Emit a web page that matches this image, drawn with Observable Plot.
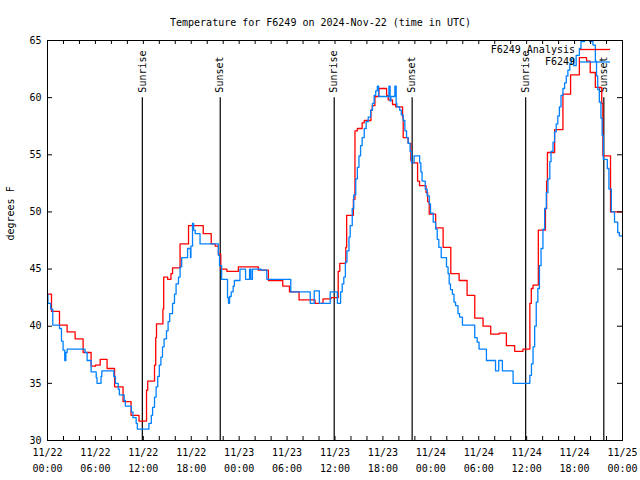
<!DOCTYPE html>
<html><head><meta charset="utf-8">
<script src="https://cdn.jsdelivr.net/npm/d3@7"></script>
<script src="https://cdn.jsdelivr.net/npm/@observablehq/plot@0.6"></script>
<style>body{margin:0;background:#fff}</style>
</head><body><div id="chart"></div>
<script>
const startTime = "2024-11-22T00:00:00Z";
const titleText = "Temperature for F6249 on 2024-Nov-22 (time in UTC)";
const yLabel = "degrees F";
const seriesNames = ["F6249 Analysis", "F6249"];
const seriesColors = ["#ff0000", "#0080ff"];

// F6249 Analysis (hours since start, degrees F)
const analysisHours = [0,0.5,1.5,2.46,3.46,4.46,5.46,6.0,6.6,7.46,8.4,9.46,10.46,11.46,12.4,12.55,13.4,13.55,13.65,14.45,14.55,15.04,15.46,15.66,16.6,17.66,19.5,20.5,21.0,21.4,21.7,22.46,23.9,26.4,27.66,29.46,30.3,31.5,33.5,34.5,35.5,36.4,36.6,37.35,37.46,38.3,38.5,38.8,39.4,39.66,40.5,40.66,41.0,41.5,42.46,42.66,43.2,43.6,44.46,44.54,45.16,45.5,45.58,46.34,46.58,47.4,47.6,47.8,48.6,49.54,50.5,51.54,52.54,53.5,54.54,55.5,56.54,57.46,58.5,59.54,60.4,60.58,60.8,61.46,62.35,62.5,62.6,63.5,64.54,65.5,66.6,67.5,67.96,68.6,69.4,69.54,70.5,72];
const analysisTemps = [42.8,41.3,40.1,39.5,38.9,37.7,36.5,36.6,37.1,36.3,34.7,33.4,32.2,31.7,34.4,35.2,36.6,39.0,40.2,41.5,44.3,44.1,44.6,45.1,47.2,48.8,48.1,47.2,47.0,46.3,45.0,44.8,45.2,44.9,44.0,43.5,43.0,42.3,42.0,42.4,42.5,44.8,45.5,46.9,49.7,51.1,57.1,57.3,57.8,58.0,58.9,59.3,60.1,60.8,60.2,59.8,59.4,59.2,58.3,56.5,56.0,54.5,54.3,52.7,52.3,51.7,50.9,49.8,48.6,46.9,44.6,44.0,42.7,40.7,40.0,39.3,39.4,38.3,37.8,38.0,42.0,43.3,43.6,48.4,50.3,52.7,55.2,57.2,60.3,62.0,63.5,63.2,62.2,60.9,59.5,54.9,50.0,50.0];

// F6249 observations (hours since start, degrees F)
const obsHours = [0,0.05,0.4,0.66,1.5,1.75,1.95,2.16,2.3,2.46,4.7,4.96,5.46,6.1,6.2,6.7,6.8,8.3,8.5,8.85,9.0,9.6,9.75,10.5,10.7,11.1,11.25,12.7,13.0,13.16,13.4,13.6,13.8,14.0,14.2,14.4,14.6,14.9,15.1,15.3,15.66,15.9,16.1,16.4,16.6,16.8,17.54,17.9,17.96,18.16,18.3,18.5,19.1,21.4,21.54,21.8,22.54,22.66,22.8,23.0,23.25,23.4,24.1,24.8,25.3,25.46,25.66,26.75,27.46,30.46,32.9,33.4,34.04,35.4,36.3,36.7,36.9,37.1,37.3,37.5,37.75,37.9,38.16,38.35,38.6,38.8,39.0,39.2,39.4,39.66,39.9,40.16,40.46,40.7,40.9,41.1,41.3,41.46,42.75,42.9,43.0,43.5,43.66,43.75,44.1,44.3,44.54,44.75,44.96,45.16,45.4,45.58,45.9,46.6,46.75,46.9,47.3,47.54,47.8,47.96,48.3,48.6,48.8,49.0,49.3,49.96,50.16,50.3,50.46,50.7,50.9,51.1,51.4,51.6,51.96,53.5,53.8,54.04,54.96,56.1,56.5,56.96,58.3,60.4,60.6,60.8,61.0,61.2,61.4,61.6,61.8,62.04,62.25,62.46,62.66,62.9,63.05,63.3,63.5,63.7,63.9,64.1,64.3,64.54,64.75,64.96,65.16,65.4,65.6,65.9,66.2,66.6,66.8,67.25,67.9,68.3,68.6,68.75,68.9,69.1,69.3,69.45,69.6,70.1,70.3,70.6,71.0,71.4,71.6,72];
const obsTemps = [42.8,42.0,41.5,40.1,39.8,38.7,37.9,37.0,37.7,38.0,37.7,37.0,36.0,35.5,35.0,35.6,36.1,35.6,35.0,34.5,34.0,33.5,33.0,32.5,32.0,31.5,31.0,31.5,32.2,32.9,33.8,34.7,35.6,36.6,37.3,38.2,38.9,39.6,40.4,41.1,42.0,42.8,43.7,44.3,45.2,46.0,46.8,46.0,47.0,49.0,48.4,48.1,47.2,46.2,45.3,44.1,42.5,42.0,42.6,43.0,43.5,44.0,45.0,44.1,45.0,44.1,45.0,44.9,44.1,43.0,42.0,43.1,42.0,43.0,42.0,43.0,43.7,44.3,45.6,46.6,47.8,48.8,50.3,51.5,52.9,53.9,54.9,55.8,56.5,57.3,57.9,58.3,58.9,59.5,60.2,60.6,61.0,60.1,61.0,59.7,60.1,61.0,59.5,59.2,58.9,58.5,58.0,57.1,56.5,56.0,55.3,54.3,54.9,54.3,53.5,52.7,52.0,51.4,50.7,49.9,49.1,48.5,47.6,46.9,46.0,45.2,44.6,43.7,43.2,42.8,42.1,41.8,41.1,40.8,40.1,39.0,38.6,38.0,37.0,36.1,37.0,36.1,35.0,35.7,36.7,38.2,40.0,42.1,43.3,45.3,46.8,48.5,50.3,51.7,52.9,54.4,55.3,56.1,57.0,57.7,58.4,59.2,60.2,60.8,61.3,61.9,62.4,63.0,63.4,62.8,63.7,64.3,64.9,65.2,64.9,64.6,63.2,61.9,60.7,59.6,58.2,56.7,54.6,53.8,52.0,50.0,49.1,48.2,47.9,47.9];

// Sunrise / sunset markers
const sunHours = [11.875, 21.63, 35.9, 45.66, 59.875, 69.66];
const sunLabels = ["Sunrise", "Sunset", "Sunrise", "Sunset", "Sunrise", "Sunset"];
const sunTop = 60;

// Axis ticks
const yTicks = [30, 35, 40, 45, 50, 55, 60, 65];
const xLabelHours = [0, 6, 12, 18, 24, 30, 36, 42, 48, 54, 60, 66, 72];
const xMinorHours = [2, 4, 6, 8, 10, 12, 14, 16, 18, 20, 22, 24, 26, 28, 30, 32, 34, 36, 38, 40, 42, 44, 46, 48, 50, 52, 54, 56, 58, 60, 62, 64, 66, 68, 70];

const t0 = new Date(startTime);
const toDate = h => new Date(t0.getTime() + h * 3600e3);
const analysis = analysisHours.map((h, i) => ({t: toDate(h), v: analysisTemps[i]}));
const obs = obsHours.map((h, i) => ({t: toDate(h), v: obsTemps[i]}));
const sun = sunHours.map((h, i) => ({t: toDate(h), s: sunLabels[i], top: sunTop}));

const W = 640, H = 480, mL = 47, mR = 18, mT = 40, mB = 40;
const pw = W - mL - mR, ph = H - mT - mB;
const fmt = d3.utcFormat("%m/%d\n%H:%M");

const chart = Plot.plot({
  width: W, height: H,
  marginLeft: mL, marginRight: mR, marginTop: mT, marginBottom: mB,
  style: {fontFamily: "'DejaVu Sans Mono', monospace", fontSize: "10px", background: "white", color: "black"},
  x: {type: "utc", domain: [toDate(0), toDate(72)]},
  y: {domain: [30, 65]},
  marks: [
    Plot.ruleX(sun, {x: "t", y1: () => 30, y2: "top", stroke: "black", strokeWidth: 1.2}),
    Plot.text(sun, {x: "t", y: "top", text: "s", rotate: -90, textAnchor: "start", dy: -5, fill: "black"}),
    Plot.line(analysis, {x: "t", y: "v", curve: "step-after", stroke: seriesColors[0], strokeWidth: 1.3, clip: true}),
    Plot.line(obs, {x: "t", y: "v", curve: "step-after", stroke: seriesColors[1], strokeWidth: 1.3, clip: true}),
    Plot.frame({stroke: "black"}),
    Plot.tickY(yTicks, {y: d => d, insetRight: pw - 5, stroke: "black"}),
    Plot.tickY(yTicks, {y: d => d, insetLeft: pw - 5, stroke: "black"}),
    Plot.tickX(xMinorHours.map(toDate), {x: d => d, insetTop: ph - 4, stroke: "black"}),
    Plot.tickX(xMinorHours.map(toDate), {x: d => d, insetBottom: ph - 4, stroke: "black"}),
    Plot.axisY({ticks: yTicks, tickSize: 0, tickPadding: 6, label: null}),
    Plot.axisX({ticks: xLabelHours.map(toDate), tickSize: 0, tickPadding: 4, tickFormat: fmt, lineHeight: 1.6, label: null}),
    Plot.text([yLabel], {text: d => d, frameAnchor: "left", rotate: -90, dx: -37}),
    Plot.text([titleText], {text: d => d, frameAnchor: "top", dy: -22, dx: W / 2 - (mL + (W - mR)) / 2})
  ]
});

// Legend (top right, gnuplot style)
const svg = d3.select(chart);
const lg = svg.append("g").attr("font-family", "'DejaVu Sans Mono', monospace").attr("font-size", 10);
seriesNames.forEach((name, i) => {
  const y = mT + 9.5 + i * 12.5;
  lg.append("text").attr("x", W - mR - 47).attr("y", y).attr("dy", "0.32em").attr("text-anchor", "end").attr("fill", "black").text(name);
  lg.append("line").attr("x1", W - mR - 42).attr("x2", W - mR - 12).attr("y1", y).attr("y2", y)
    .attr("stroke", seriesColors[i]).attr("stroke-width", 1.3);
});

document.getElementById("chart").appendChild(chart);
</script>
</body></html>
